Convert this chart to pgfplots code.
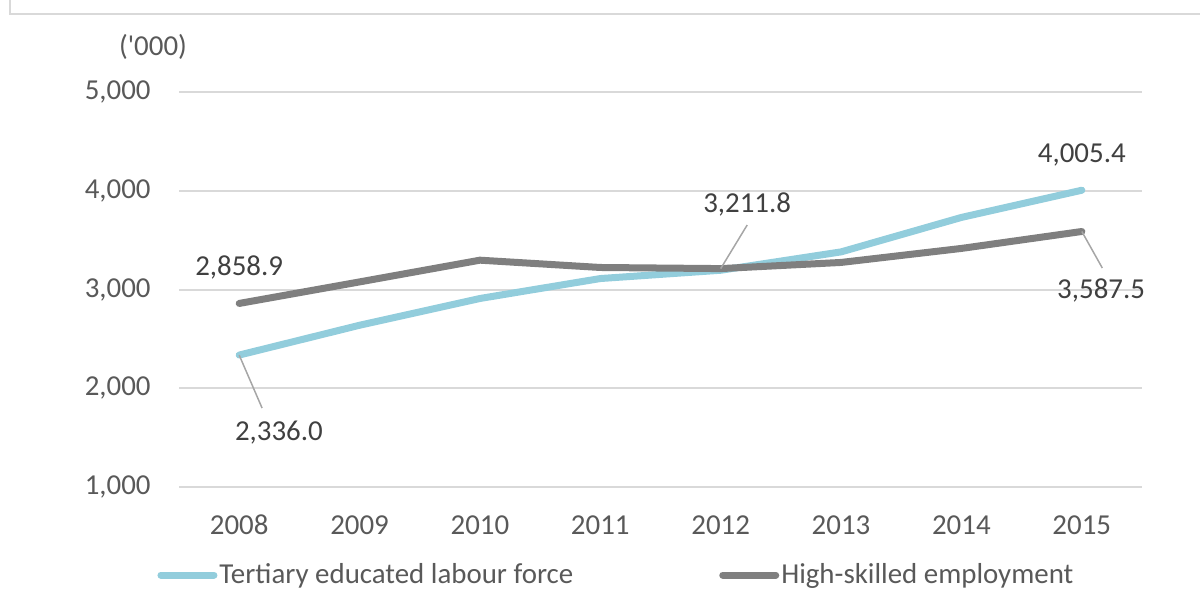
\documentclass[border=0pt]{standalone}
\usepackage{pgfplots}
\pgfplotsset{compat=1.18}
\usepackage{fontspec}
\setmainfont{Carlito}

\definecolor{txt}{HTML}{595959}
\definecolor{lbl}{HTML}{404040}
\definecolor{gridc}{HTML}{D9D9D9}
\definecolor{tertiary}{HTML}{92CDDC}
\definecolor{highskill}{HTML}{7F7F7F}
\definecolor{leader}{HTML}{A6A6A6}

\begin{document}
\begin{tikzpicture}[x=1bp,y=1bp]
	\useasboundingbox (0,0) rectangle (600,300);
	% chart frame (top and left edges visible)
	\draw[gridc, line width=1bp] (5,300) -- (5,293) -- (600,293);
	\node[text=txt, font=\fontsize{14.5}{17}\selectfont] at (76.5,276.5) {(\textquotesingle 000)};
	\begin{axis}[
		at={(89.5bp,56.5bp)},
		anchor=south west,
		scale only axis,
		width=481.5bp,
		height=197.5bp,
		xmin=2007.5, xmax=2015.5,
		ymin=1000, ymax=5000,
		xtick={2008,...,2015},
		xticklabels={2008,2009,2010,2011,2012,2013,2014,2015},
		ytick={1000,2000,3000,4000,5000},
		axis line style={draw=none},
		major tick length=0pt,
		ymajorgrids,
		grid style={gridc, line width=1bp},
		tick label style={text=txt, font=\fontsize{14.5}{17}\selectfont},
		/pgf/number format/.cd, 1000 sep={,}, assume math mode=true,
		/pgfplots/.cd,
		yticklabel style={anchor=east, inner sep=0pt, xshift=-14bp},
		xticklabel style={anchor=center, inner sep=0pt, yshift=-19bp},
		legend columns=2,
		legend style={
			at={(-0.0228,-0.2228)}, anchor=west,
			draw=none, fill=none, inner sep=0pt,
			font=\fontsize{14.5}{17}\selectfont, text=txt,
			nodes={inner sep=1bp},
			/tikz/every even column/.append style={column sep=72bp},
		},
		legend image code/.code={\draw[#1, line cap=round] (0bp,0bp) -- (26.5bp,0bp);},
		clip=false,
	]
	\addplot[tertiary, line width=3.5bp, line join=round, line cap=round] coordinates {
		(2008,2336.0) (2009,2638) (2010,2909) (2011,3111) (2012,3195) (2013,3381) (2014,3730) (2015,4005.4)};
	\addlegendentry{Tertiary educated labour force}
	\addplot[highskill, line width=3.5bp, line join=round, line cap=round] coordinates {
		(2008,2858.9) (2009,3077) (2010,3297) (2011,3223) (2012,3211.8) (2013,3274) (2014,3416) (2015,3587.5)};
	\addlegendentry{High-skilled employment}

	% data labels with leader lines
	\draw[leader, line width=0.75bp] (axis cs:2008,2336.0) -- (axis cs:2008.19,1800);
	\draw[leader, line width=0.75bp] (axis cs:2012,3211.8) -- (axis cs:2012.22,3653);
	\draw[leader, line width=0.75bp] (axis cs:2015,3587.5) -- (axis cs:2015.17,3218);
	\begin{scope}[every node/.style={text=lbl, font=\fontsize{14.5}{17}\selectfont}]
		\node at (axis cs:2008,3228) {2,858.9};
		\node at (axis cs:2008.33,1547) {2,336.0};
		\node at (axis cs:2012.22,3856) {3,211.8};
		\node at (axis cs:2015,4362) {4,005.4};
		\node at (axis cs:2015.16,2995) {3,587.5};
	\end{scope}
	\end{axis}
\end{tikzpicture}
\end{document}
